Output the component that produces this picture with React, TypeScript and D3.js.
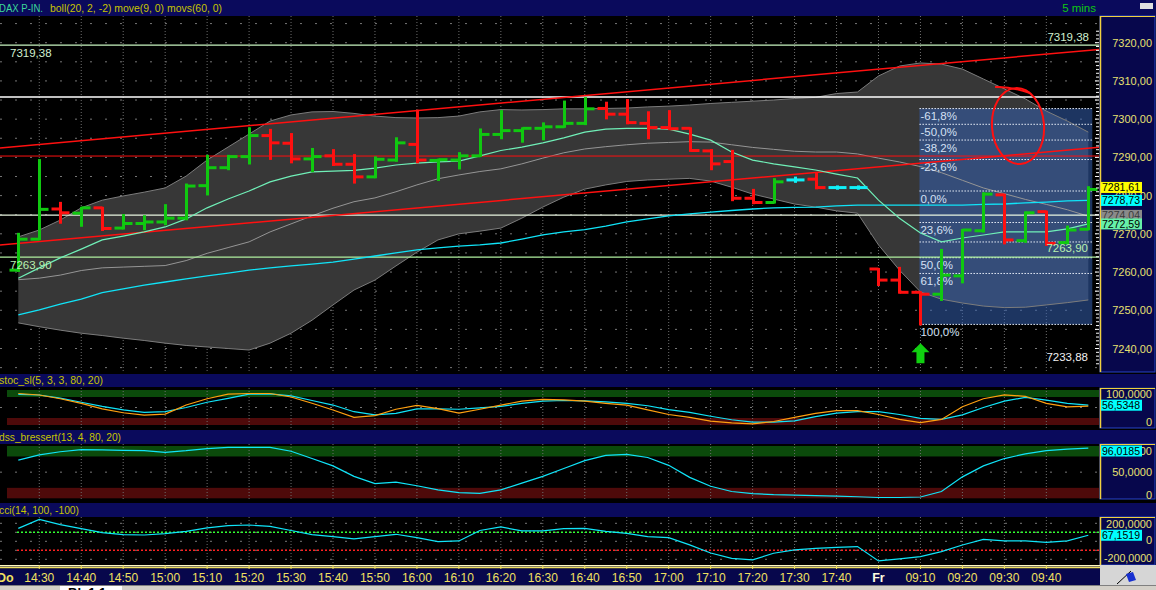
import React from "react";
import * as d3 from "d3";

const FONT = "'Liberation Sans', Arial, Helvetica, sans-serif";

// ---------- DATA (5-min bars: Thu 14:25–17:45, Fri 09:00–09:50) ----------
const opens = [7260.5,7268.6,7276.5,7275.4,7276.8,7271.5,7272.7,7273.1,7274.1,7282.6,
  7287.3,7290.2,7295.7,7293.7,7289.6,7290.4,7288.2,7284.9,7289.3,7293.4,
  7289.2,7289.3,7290.4,7296.0,7297.0,7297.6,7298.0,7298.9,7302.8,7301.3,
  7298.9,7297.8,7297.6,7291.7,7288.9,7279.3,7278.2,7284.1,7284.3,7282.1,
  7282.1,7260.8,7257.9,7254.7,7254.2,7259.0,7270.8,7280.2,7268.2,7275.8,
  7267.7,7271.2];
const highs = [7270.0,7289.3,7278.1,7276.8,7276.8,7274.9,7274.6,7277.5,7282.9,7290.4,
  7290.4,7297.6,7297.2,7296.1,7292.2,7291.9,7290.6,7290.0,7295.0,7302.2,
  7289.4,7291.1,7297.3,7302.1,7297.6,7298.9,7304.6,7305.5,7304.3,7305.0,
  7301.8,7302.1,7297.6,7291.9,7291.7,7281.5,7284.3,7284.7,7285.8,7282.4,
  7282.4,7260.8,7261.1,7254.7,7265.8,7271.0,7280.6,7280.2,7275.6,7275.8,
  7271.9,7282.2];
const lows = [7260.3,7268.6,7272.9,7272.1,7271.0,7271.4,7271.2,7272.5,7273.8,7280.3,
  7286.9,7288.4,7289.6,7288.7,7286.4,7288.0,7283.4,7284.8,7289.1,7288.7,
  7284.1,7287.1,7290.4,7295.0,7294.1,7294.7,7298.0,7298.7,7300.2,7298.9,
  7295.0,7297.4,7291.7,7286.9,7278.8,7278.0,7278.2,7283.6,7281.9,7281.8,
  7281.8,7256.6,7254.6,7246.3,7252.7,7257.3,7270.6,7267.5,7267.9,7267.1,
  7267.5,7271.2];
const closes = [7268.6,7276.4,7275.5,7276.8,7271.4,7272.7,7273.1,7274.1,7282.5,7287.3,
  7290.2,7295.7,7293.8,7289.6,7290.2,7288.2,7284.9,7289.5,7293.8,7289.3,
  7289.4,7290.4,7296.0,7297.0,7297.6,7298.0,7298.9,7302.7,7301.3,7299.1,
  7297.8,7297.5,7291.8,7288.3,7279.3,7278.2,7283.6,7284.1,7282.1,7282.1,
  7282.1,7257.9,7254.7,7254.2,7259.2,7271.0,7280.4,7268.4,7275.5,7267.5,
  7271.0,7281.61];

const bollUpper = [7269.2,7271.0,7273.6,7276.8,7278.8,7279.9,7280.9,7282.0,7285.1,7289.3,
  7292.7,7296.1,7299.5,7301.1,7301.9,7302.0,7301.5,7300.8,7300.4,7300.3,
  7300.4,7300.8,7301.9,7302.5,7302.4,7302.5,7302.7,7302.7,7302.8,7302.9,
  7303.2,7303.4,7303.7,7304.1,7304.4,7304.7,7305.0,7305.4,7305.7,7306.7,
  7307.1,7311.3,7313.9,7314.7,7314.4,7313.1,7310.5,7307.9,7305.3,7302.1,
  7299.5,7296.6];
const bollMid = [7258.0,7258.4,7259.2,7260.4,7261.1,7261.3,7261.5,7261.7,7263.0,7264.9,
  7266.4,7267.9,7270.5,7272.6,7274.7,7276.7,7278.4,7279.4,7281.0,7282.8,
  7284.4,7285.4,7286.3,7287.0,7288.3,7289.8,7291.2,7292.2,7292.8,7293.3,
  7293.7,7293.9,7294.1,7294.0,7293.3,7292.6,7292.1,7291.6,7291.4,7291.4,
  7290.9,7289.8,7288.8,7287.6,7286.0,7284.0,7282.0,7280.5,7279.0,7277.7,
  7276.3,7274.6];
const bollLower = [7246.7,7245.7,7244.8,7244.0,7243.4,7242.7,7242.1,7241.4,7240.8,7240.4,
  7240.0,7239.6,7241.4,7244.0,7247.4,7251.4,7255.3,7257.9,7261.6,7265.2,
  7268.4,7270.0,7270.7,7271.5,7274.1,7277.0,7279.6,7281.7,7282.8,7283.7,
  7284.1,7284.3,7284.5,7283.8,7282.2,7280.4,7279.1,7277.8,7277.0,7276.0,
  7275.4,7267.1,7260.5,7254.8,7252.9,7251.9,7251.1,7250.7,7250.8,7251.4,
  7252.0,7252.7];
const move9 = [7258.4,7261.1,7263.7,7266.0,7268.4,7269.4,7270.5,7271.8,7273.9,7276.8,
  7279.1,7281.2,7283.6,7285.1,7286.2,7286.4,7286.6,7287.2,7288.0,7288.5,
  7288.8,7289.0,7290.4,7291.8,7292.7,7293.8,7295.1,7296.6,7297.4,7297.6,
  7297.6,7297.4,7296.1,7294.5,7291.4,7289.3,7288.3,7287.5,7286.7,7285.6,
  7284.6,7278.8,7274.1,7270.2,7267.9,7268.9,7269.7,7270.5,7270.5,7270.5,
  7271.3,7272.59];
const movs60 = [7248.8,7250.1,7251.6,7252.9,7254.6,7255.6,7256.6,7257.4,7258.2,7259.0,
  7259.7,7260.5,7261.1,7261.6,7262.1,7262.6,7263.4,7264.2,7265.0,7265.8,
  7266.3,7266.8,7267.1,7267.6,7268.6,7269.7,7270.5,7271.1,7272.0,7273.1,
  7273.9,7274.7,7275.2,7275.7,7276.1,7276.5,7276.8,7276.9,7277.0,7277.3,
  7277.5,7277.5,7277.5,7277.5,7277.5,7277.5,7277.7,7277.8,7278.1,7278.3,
  7278.6,7278.73];

const stochK = [87.6,85.7,77,65,53,43,36,38,50,65,
  76,88,89,83,70,57,38,29,33,46,
  46,45,49,53,62,68,70,69,66,62,
  55,44,36,25,15,8,8,12,24,34,
  38,38,30,19,16,29,50,68,79,71,
  62,56.53];
const stochD = [90,85.7,75,62,46,35,28,31,57,75,
  88,90,90,80,62,43,22,27,45,56,
  47,34,45,57,68,73,72,68,62,57,
  43,30,22,11,6,3,10,22,33,41,
  41,30,16,7,16,52,75,86,82,62,
  52,54];
const dss = [73,83,89,93,92.5,91.5,91,88,91,95,
  97.5,97.5,97.5,90,76,62,42,28,31,24,
  16,11,9.5,16,29,42,57,72,82,84,
  78,63,40,23,13,9,7,6,5,4,
  3,1.5,1.5,2.5,13,41,62,76,85,91,
  94,96.02];
const cci = [144,244,185,140,96,74,70,85,110,150,
  175,181,165,120,75,52,26,52,78,40,
  -4,4,120,160,115,115,140,144,110,89,
  52,41,-40,-130,-190,-207,-133,-96,-78,-68,
  -59,-218,-195,-170,-115,-41,22,4,4,-11,
  4,67.15];

const timeLabels = ["14:30","14:40","14:50","15:00","15:10","15:20","15:30","15:40","15:50",
  "16:00","16:10","16:20","16:30","16:40","16:50","17:00","17:10","17:20","17:30","17:40",
  "Fr","09:10","09:20","09:30","09:40"];
const timeLabelBars = [1,3,5,7,9,11,13,15,17,19,21,23,25,27,29,31,33,35,37,39,41,43,45,47,49];
const priceTicks = [7240,7250,7260,7270,7280,7290,7300,7310,7320];

const hLevels = [7319.38, 7305.8, 7274.9, 7263.9];
const hColors = ["#c8f5c0", "#ffffff", "#e8f5e0", "#b0f0a0"];

const trendFrom = [[0, 7292.9], [0, 7267.5], [0, 7290.35]];
const trendTo = [[51, 7318.0], [51, 7292.4], [51, 7290.35]];

const fibRatios = [-0.618, -0.5, -0.382, -0.236, 0, 0.236, 0.382, 0.5, 0.618, 1];
const fibLabels = ["-61,8%", "-50,0%", "-38,2%", "-23,6%", "0,0%", "23,6%", "", "50,0%", "61,8%", "100,0%"];
const fibHigh = 7281.2;
const fibLow = 7246.3;

const tagValues = [7274.04, 7281.61, 7278.73, 7272.59];
const tagColors = ["#8a8a8a", "#ffff00", "#00ffff", "#66f0a8"];

// ---------- STYLE ----------
const GREEN = "#10c810";
const RED = "#ff1010";
const CYAN = "#10f0f8";
const NAVY = "#0a0a5c";
const AXNAVY = "#07074c";
const YEL = "#e8e070";

const fmt2 = (v: number) => d3.format(".2f")(v).replace(".", ",");
const fmt4 = (v: number) => d3.format(".4f")(v).replace(".", ",").replace("−", "-");

export default function App() {
  const x = d3.scaleLinear().domain([0, 51]).range([18.3, 1088.3]);
  const y = d3.scaleLinear().domain([7240, 7320]).range([348.5, 42.7]);
  const ySt = d3.scaleLinear().domain([0, 100]).range([425, 390]);
  const yDs = d3.scaleLinear().domain([0, 100]).range([498.3, 446]);
  const yCc = d3.scaleLinear().domain([-200, 200]).range([559.3, 523.3]);

  const PR = 1099; // plot right
  const band = d3.area<number>().x((_, i) => x(i)).y0((_, i) => y(bollLower[i])).y1((d) => y(d));
  const pline = d3.line<number>().x((_, i) => x(i)).y((d) => y(d));
  const lineOf = (sc: d3.ScaleLinear<number, number>) =>
    d3.line<number>().x((_, i) => x(i)).y((d) => sc(d));

  const gridX = timeLabelBars.map((b) => x(b));
  const nL = x.invert(0), nR = x.invert(PR);
  const trendY = (k: number, n: number) => {
    const [n0, p0] = trendFrom[k];
    const [n1, p1] = trendTo[k];
    return y(p0 + ((p1 - p0) * (n - n0)) / (n1 - n0));
  };

  const fibPrice = (r: number) => fibHigh - r * (fibHigh - fibLow);
  const fibX0 = x(43) - 1;
  const fibX1 = x(51) + 4;

  const hGrid: number[] = [];
  for (let p = 7235; p <= 7325; p += 5) hGrid.push(p);
  const rTicks: number[] = [];
  for (let p = 7236; p <= 7323; p += 1) rTicks.push(p);

  const vGrid = (top: number, bottom: number, key: string) =>
    gridX.map((gx, i) => (
      <line key={key + i} x1={gx} x2={gx} y1={top} y2={bottom} stroke="#6e6e6e" strokeWidth={1} strokeDasharray="1,2" />
    ));

  const panelBox = (top: number, bottom: number, key: string) => (
    <g key={key}>
      <rect x={1100} y={top} width={55} height={bottom - top} fill={AXNAVY} stroke="#2844c8" strokeWidth={1} />
      <line x1={1100.5} x2={1100.5} y1={top} y2={bottom} stroke="#f0d040" strokeWidth={1.5} />
      <line x1={1100} x2={1155} y1={top + 0.5} y2={top + 0.5} stroke="#f0d040" strokeWidth={1} />
    </g>
  );

  const headerBar = (top: number, h: number, text: string, w: number, key: string) => (
    <g key={key}>
      <rect x={0} y={top} width={1156} height={h} fill={NAVY} />
      <text x={-1} y={top + h - 3} fontFamily={FONT} fontSize={11} fill="#c8c400"
        textLength={w} lengthAdjust="spacingAndGlyphs">{text}</text>
    </g>
  );

  const tag = (cy: number, label: string, bg: string, fg: string, key: string) => (
    <g key={key}>
      <rect x={1101} y={cy - 5.5} width={41} height={11} fill={bg} />
      <text x={1102} y={cy + 4} fontFamily={FONT} fontSize={10.5} fill={fg}
        textLength={38} lengthAdjust="spacingAndGlyphs">{label}</text>
    </g>
  );

  const axLabel = (yy: number, label: string, key: string, w?: number) => (
    <text key={key} x={1152} y={yy} textAnchor="end" fontFamily={FONT} fontSize={11} fill={YEL}
      {...(w ? { textLength: w, lengthAdjust: "spacingAndGlyphs" } : {})}>{label}</text>
  );

  // circle annotation anchored in data space
  const circCx = x(47.65);
  const circCy = y(7298.2);

  return (
    <svg width={1156} height={590} style={{ position: "absolute", left: 0, top: 0, background: "#000" }}
      xmlns="http://www.w3.org/2000/svg">
      <defs>
        <clipPath id="mainClip"><rect x={0} y={16} width={PR} height={356} /></clipPath>
        <clipPath id="stClip"><rect x={0} y={388} width={PR} height={40} /></clipPath>
        <clipPath id="dsClip"><rect x={0} y={444} width={PR} height={55} /></clipPath>
        <clipPath id="ccClip"><rect x={0} y={517} width={PR} height={48} /></clipPath>
      </defs>
      <rect x={0} y={0} width={1156} height={590} fill="#000" />

      {/* ---------- main header ---------- */}
      <rect x={0} y={0} width={1156} height={16} fill={NAVY} />
      <text x={-1} y={12} fontFamily={FONT} fontSize={11.5} fill="#3cd898" textLength={44} lengthAdjust="spacingAndGlyphs">DAX P-IN.</text>
      <text x={50} y={12} fontFamily={FONT} fontSize={11.5} fill="#c8c400" textLength={172} lengthAdjust="spacingAndGlyphs">boll(20, 2, -2) move(9, 0) movs(60, 0)</text>
      <text x={1096} y={12} textAnchor="end" fontFamily={FONT} fontSize={11.5} fill="#10c810">5 mins</text>
      <rect x={1140} y={3} width={13} height={6} fill="#e0e0e0" />

      {/* ---------- main plot ---------- */}
      <g clipPath="url(#mainClip)">
        {hGrid.map((p) => (
          <line key={"hg" + p} x1={0} x2={PR} y1={y(p)} y2={y(p)} stroke="#777" strokeWidth={1} strokeDasharray="2,13" />
        ))}
        {vGrid(16, 372, "mv")}
        <path d={band(bollUpper) || ""} fill="#373737" />
        {/* fib box */}
        <rect x={fibX0} y={y(fibPrice(-0.618))} width={fibX1 - fibX0} height={y(fibLow) - y(fibPrice(-0.618))}
          fill="#3560b0" fillOpacity={0.55} />
        <path d={pline(bollUpper) || ""} fill="none" stroke="#7c7c7c" strokeWidth={1} />
        <path d={pline(bollLower) || ""} fill="none" stroke="#7c7c7c" strokeWidth={1} />
        <path d={pline(bollMid) || ""} fill="none" stroke="#959595" strokeWidth={1} />

        {fibRatios.map((r, i) => (
          <g key={"fib" + i}>
            <line x1={fibX0} x2={fibX1} y1={y(fibPrice(r))} y2={y(fibPrice(r))} stroke="#e8eef8" strokeWidth={1} strokeDasharray="1.5,1.5" />
            {fibLabels[i] && (
              <text x={fibX0 + 1} y={y(fibPrice(r)) + 11.5} fontFamily={FONT} fontSize={11.5} fill="#d4e0f4">{fibLabels[i]}</text>
            )}
          </g>
        ))}

        {hLevels.map((p, i) => (
          <line key={"hl" + i} x1={0} x2={PR} y1={y(p)} y2={y(p)} stroke={hColors[i]} strokeWidth={1.3} />
        ))}
        {trendFrom.map((_, k) => (
          <line key={"tr" + k} x1={0} x2={PR} y1={trendY(k, nL)} y2={trendY(k, nR)} stroke="#ff1010" strokeWidth={k === 2 ? 1 : 1.5} />
        ))}

        <path d={pline(movs60) || ""} fill="none" stroke="#10e4f8" strokeWidth={1.3} />
        <path d={pline(move9) || ""} fill="none" stroke="#70f0b8" strokeWidth={1.2} />

        {/* OHLC bars */}
        {opens.map((o, i) => {
          const c = closes[i];
          const col = c > o ? GREEN : c < o ? RED : CYAN;
          const xi = Math.round(x(i)) + 0.5;
          const yh = y(highs[i]);
          const yl = y(lows[i]);
          return (
            <g key={"bar" + i} stroke={col} strokeWidth={3}>
              <line x1={xi} x2={xi} y1={yh - 1} y2={yl + 1} />
              <line x1={xi - 9} x2={xi} y1={y(o)} y2={y(o)} />
              <line x1={xi} x2={xi + 9} y1={y(c)} y2={y(c)} />
            </g>
          );
        })}

        {/* level texts */}
        <text x={10} y={y(7319.38) + 12} fontFamily={FONT} fontSize={11.5} fill="#d0f0d0">{fmt2(7319.38)}</text>
        <text x={1089} y={y(7319.38) - 4} textAnchor="end" fontFamily={FONT} fontSize={11.5} fill="#d0f0d0">{fmt2(7319.38)}</text>
        <text x={10} y={y(7263.9) + 11.5} fontFamily={FONT} fontSize={11.5} fill="#b8f0b0">{fmt2(7263.9)}</text>
        <text x={1088} y={y(7263.9) - 5} textAnchor="end" fontFamily={FONT} fontSize={11.5} fill="#b8f0b0">{fmt2(7263.9)}</text>
        <text x={1088} y={y(7236.6)} textAnchor="end" fontFamily={FONT} fontSize={11.5} fill="#f0f0f0">{fmt2(7233.88)}</text>

        {/* signal arrow under bar 43 */}
        <g transform={`translate(${x(43)},${y(7241.4)})`}>
          <polygon points="-9,9 0,0 9,9 4,9 4,20 -4,20 -4,9" fill="#10d010" />
        </g>

        {/* hand-drawn circle */}
        <g transform={`translate(${circCx},${circCy})`} fill="none" stroke="#ff1010" strokeWidth={2}>
          <ellipse cx={0} cy={0} rx={26} ry={38} transform="rotate(-4)" />
          <path d="M -23,-39 Q -8,-40 12,-33" />
        </g>

        {/* right edge ticks */}
        {rTicks.map((p) => (
          <line key={"rt" + p} x1={p % 5 === 0 ? 1095 : 1096} x2={1099} y1={y(p)} y2={y(p)} stroke="#fff" strokeWidth={1} />
        ))}
      </g>

      {/* ---------- price axis ---------- */}
      {panelBox(16, 372, "mainbox")}
      {priceTicks.map((p) => axLabel(y(p) + 4, fmt2(p), "pt" + p))}
      {tagValues.map((v, i) => {
        const off = i === 0 ? -3 : i === 1 ? -2 : 0;
        return tag(y(v) + off, fmt2(v), tagColors[i], i === 0 ? "#3a3a3a" : "#000", "tag" + i);
      })}

      {/* ---------- stochastic ---------- */}
      {headerBar(374, 13, "stoc_sl(5, 3, 3, 80, 20)", 104, "sth")}
      <g clipPath="url(#stClip)">
        <rect x={7} y={ySt(100)} width={PR - 7} height={ySt(80) - ySt(100)} fill="#0b4a0b" />
        <rect x={7} y={ySt(20)} width={PR - 7} height={ySt(0) - ySt(20)} fill="#4e0a0a" />
        <line x1={0} x2={PR} y1={ySt(50)} y2={ySt(50)} stroke="#777" strokeDasharray="2,13" />
        {vGrid(388, 428, "sv")}
        <path d={lineOf(ySt)(stochK) || ""} fill="none" stroke="#10e4f8" strokeWidth={1.2} />
        <path d={lineOf(ySt)(stochD) || ""} fill="none" stroke="#ffa010" strokeWidth={1.2} />
      </g>
      {panelBox(388, 428, "stbox")}
      {axLabel(398, fmt4(100), "st100")}
      {axLabel(425.5, "0", "st0")}
      {tag(ySt(stochK[51]), fmt4(stochK[51] + 0.0048), "#00ffff", "#000", "sttag")}

      {/* ---------- DSS ---------- */}
      {headerBar(430, 14, "dss_bressert(13, 4, 80, 20)", 122, "dsh")}
      <g clipPath="url(#dsClip)">
        <rect x={7} y={yDs(100)} width={PR - 7} height={yDs(80) - yDs(100)} fill="#0b4a0b" />
        <rect x={7} y={yDs(20)} width={PR - 7} height={yDs(0) - yDs(20)} fill="#4e0a0a" />
        <line x1={0} x2={PR} y1={yDs(50)} y2={yDs(50)} stroke="#777" strokeDasharray="2,13" />
        {vGrid(444, 499, "dv")}
        <path d={lineOf(yDs)(dss) || ""} fill="none" stroke="#10e4f8" strokeWidth={1.2} />
      </g>
      {panelBox(444, 499, "dsbox")}
      {axLabel(455, fmt4(100), "ds100")}
      {axLabel(476, fmt4(50), "ds50")}
      {axLabel(499, "0", "ds0")}
      {tag(Math.max(yDs(dss[51]), 451), fmt4(dss[51] - 0.0015), "#00ffff", "#000", "dstag")}

      {/* ---------- CCI ---------- */}
      {headerBar(503, 14, "cci(14, 100, -100)", 80, "cch")}
      <g clipPath="url(#ccClip)">
        {[200, 100, 0, -100, -200].map((v) => (
          <line key={"cg" + v} x1={0} x2={PR} y1={yCc(v)} y2={yCc(v)} stroke="#777" strokeDasharray="2,13" />
        ))}
        {vGrid(517, 565, "cv")}
        <line x1={17} x2={PR} y1={yCc(100)} y2={yCc(100)} stroke="#30ff30" strokeWidth={1.5} strokeDasharray="2,2" />
        <line x1={17} x2={PR} y1={yCc(-100)} y2={yCc(-100)} stroke="#ff2020" strokeWidth={1.5} strokeDasharray="2,2" />
        <path d={lineOf(yCc)(cci) || ""} fill="none" stroke="#10e4f8" strokeWidth={1.2} />
      </g>
      {panelBox(517, 565, "ccbox")}
      {axLabel(528, fmt4(200), "cc200")}
      {axLabel(544, "0", "cc0")}
      {axLabel(561.5, fmt4(-200), "ccm200", 48)}
      {tag(yCc(cci[51]), fmt4(cci[51] + 0.0019), "#00ffff", "#000", "cctag")}

      {/* ---------- time axis ---------- */}
      <rect x={0} y={565} width={1100} height={1.5} fill="#fff8c0" />
      <rect x={0} y={567} width={1100} height={1.5} fill="#f0e060" />
      <rect x={0} y={568.5} width={1100} height={16.5} fill={AXNAVY} />
      <text x={-3} y={582} fontFamily={FONT} fontSize={12.5} fontWeight="bold" fill="#f0e060">Do</text>
      {timeLabels.map((t, i) => (
        <text key={"tl" + i} x={x(timeLabelBars[i])} y={582} textAnchor="middle" fontFamily={FONT}
          fontSize={t === "Fr" ? 12.5 : 12} fontWeight={t === "Fr" ? "bold" : "normal"}
          fill={t === "Fr" ? "#fffce0" : "#f0e060"}>{t}</text>
      ))}
      {gridX.map((gx, i) => (
        <line key={"tt" + i} x1={gx} x2={gx} y1={565} y2={569} stroke="#f0e060" strokeWidth={1} />
      ))}

      {/* bottom-right corner & tab strip */}
      <rect x={1100} y={565} width={56} height={20} fill="#d6d6d6" />
      <line x1={1117} y1={584} x2={1131} y2={571} stroke="#000" strokeWidth={1} />
      <polygon points="1126,574 1133,572 1136,580 1129,582" fill="#1830d0" />
      <rect x={0} y={585} width={1156} height={5} fill="#d4d0c8" />
      <rect x={60} y={585} width={62} height={5} fill="#ffffff" />
      <line x1={0} x2={1156} y1={585.5} y2={585.5} stroke="#808080" />
      <text x={68} y={597} fontFamily={FONT} fontSize={13} fontWeight="bold" fill="#000">Bl. 1.1</text>
    </svg>
  );
}
